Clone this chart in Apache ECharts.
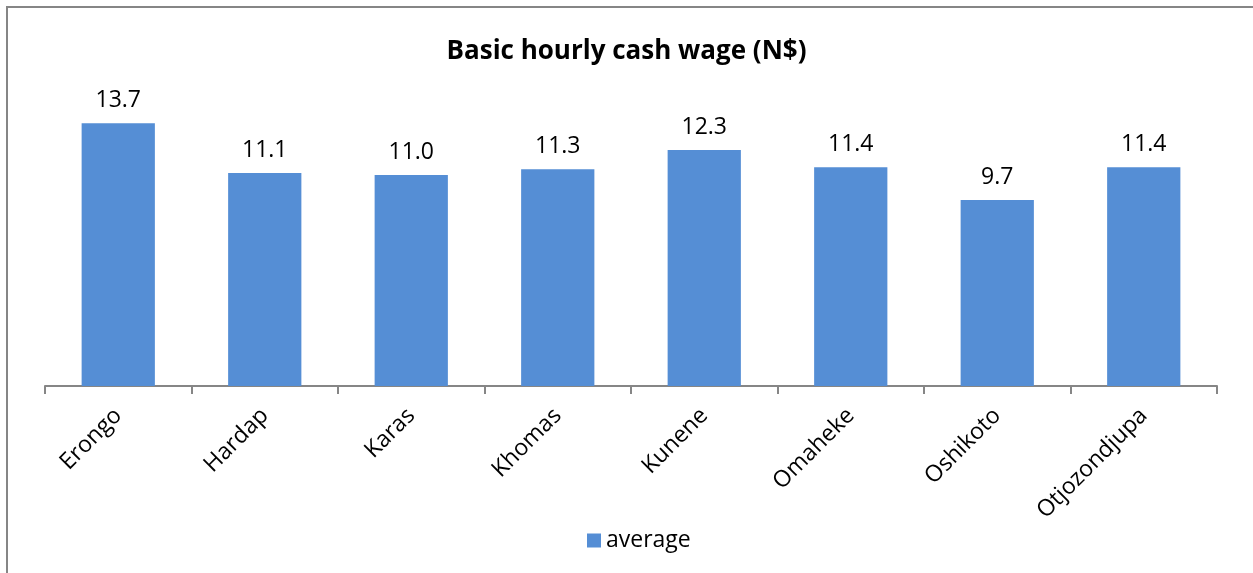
<!DOCTYPE html>
<html>
<head>
<meta charset="utf-8">
<script src="https://cdn.jsdelivr.net/npm/echarts@6/dist/echarts.min.js"></script>
<style>
  html, body { margin: 0; padding: 0; background: #fff; }
  #chart { width: 1253px; height: 573px; }
</style>
</head>
<body>
<div id="chart"></div>
<script>
var regions = ['Erongo', 'Hardap', 'Karas', 'Khomas', 'Kunene', 'Omaheke', 'Oshikoto', 'Otjozondjupa']
var average = [13.7, 11.1, 11.0, 11.3, 12.3, 11.4, 9.7, 11.4]

;(function () {
  var myChart = echarts.init(document.getElementById('chart'))
  var font = '"Open Sans", sans-serif'
  var option = {
    color: ['#558ed5'],
    animation: false,
    title: {
      text: 'Basic hourly cash wage (N$)',
      left: 'center',
      top: 34,
      textStyle: { fontFamily: font, fontSize: 26, fontWeight: 'bold', color: '#000' }
    },
    legend: {
      data: ['average'],
      bottom: 16,
      left: 582,
      icon: 'rect',
      itemWidth: 14,
      itemHeight: 14,
      itemGap: 6,
      textStyle: { fontFamily: font, fontSize: 23, color: '#000' }
    },
    grid: {
      left: 45,
      right: 36,
      top: 79,
      bottom: 187
    },
    xAxis: {
      type: 'category',
      data: regions,
      axisLine: { lineStyle: { color: '#868686', width: 2 } },
      axisTick: { show: true, length: 8, lineStyle: { color: '#868686', width: 2 } },
      axisLabel: {
        rotate: 45,
        interval: 0,
        margin: 26,
        color: '#000',
        fontFamily: font,
        fontSize: 23
      }
    },
    yAxis: {
      type: 'value',
      min: 0,
      max: 16,
      show: false
    },
    series: [
      {
        name: 'average',
        type: 'bar',
        data: average,
        barWidth: '50%',
        label: {
          show: true,
          position: 'top',
          distance: 11,
          color: '#000',
          fontFamily: font,
          fontSize: 23,
          formatter: function (p) { return p.value.toFixed(1) }
        }
      }
    ],
    graphic: [
      {
        type: 'polyline',
        shape: { points: [[7, 573], [7, 7], [1253, 7]] },
        style: { stroke: '#868686', lineWidth: 2, fill: null }
      }
    ]
  }
  myChart.setOption(option)
})()
</script>
</body>
</html>
